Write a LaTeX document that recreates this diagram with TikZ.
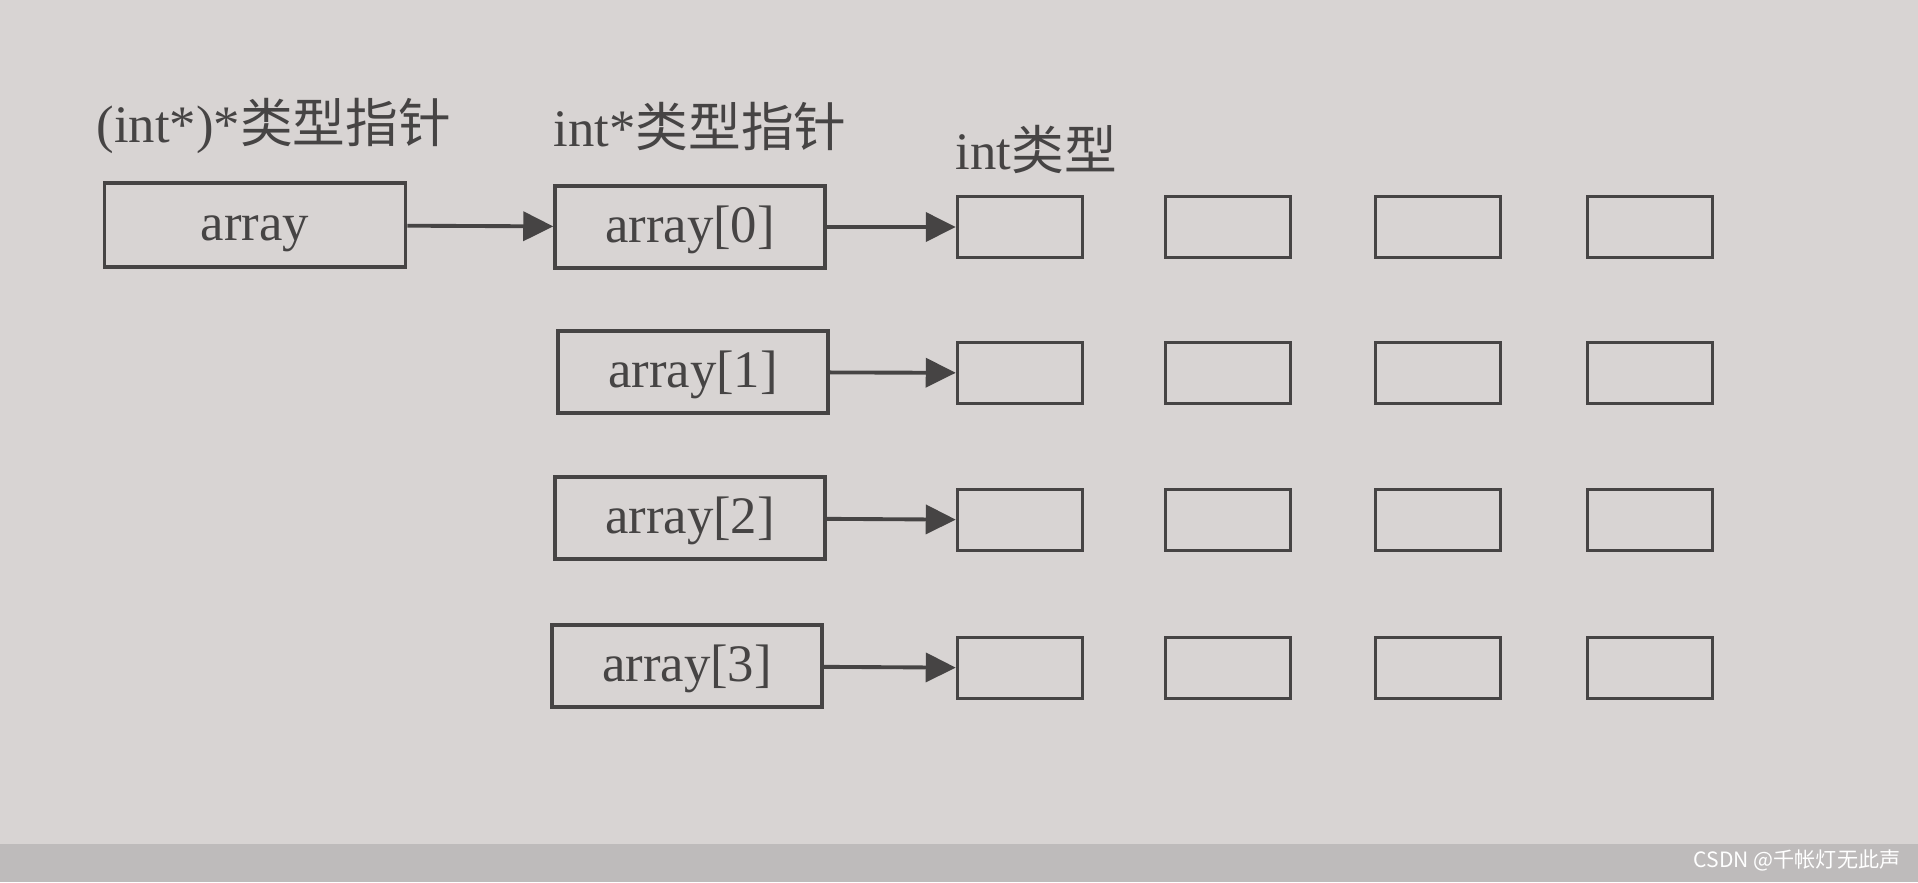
\documentclass[tikz,border=0pt]{standalone}
\usepackage{fontspec}
\setmainfont{Liberation Serif}
\newfontfamily\cjk{Noto Sans CJK SC}
\usetikzlibrary{arrows.meta}
\definecolor{paper}{RGB}{216,212,211}
\definecolor{band}{RGB}{190,187,187}
\definecolor{ink}{RGB}{70,68,68}

\begin{document}
\begin{tikzpicture}[line width=1pt, every node/.style={font=\fontsize{15}{18}\selectfont, text=ink},
    ptrbox/.style={draw=ink, minimum width=2.7cm, minimum height=0.82cm, inner sep=0pt, text height=10pt, text depth=1.2pt},
    intbox/.style={draw=ink, minimum width=1.25cm, minimum height=0.61cm, inner sep=0pt},
    link/.style={draw=ink, line width=1.1pt, -{Triangle[length=3mm,width=2.9mm]}}]
  \fill[paper] (0,0) rectangle (19.18,8.82);
  \fill[band] (0,0) rectangle (19.18,0.38);
  \useasboundingbox (0,0) rectangle (19.18,8.82);

  % column titles
  \node[anchor=west, inner sep=0pt] (lblpp) at (0.95,7.56) {(int*)*{\cjk 类型指针}};
  \node[anchor=west, inner sep=0pt] (lblp) at (5.52,7.56) {int*{\cjk 类型指针}};
  \node[anchor=west, inner sep=0pt] (lblint) at (9.54,7.33) {int{\cjk 类型}};

  \node[ptrbox, minimum width=3.01cm, minimum height=0.84cm] (arr) at (2.55,6.57) {array};
  \node[ptrbox] (p0) at (6.90,6.55) {array[0]};
  \node[ptrbox] (p1) at (6.93,5.10) {array[1]};
  \node[ptrbox] (p2) at (6.90,3.64) {array[2]};
  \node[ptrbox] (p3) at (6.87,2.16) {array[3]};

  \foreach \r/\y in {0/6.55,1/5.09,2/3.62,3/2.14}
    \foreach \c/\x in {0/10.2,1/12.28,2/14.38,3/16.5}
      \node[intbox] (c\r\c) at (\x,\y) {};

  \draw[link] (arr) -- (p0);
  \foreach \r in {0,...,3}
    \draw[link] (p\r) -- (c\r0);

  \node[font=\fontsize{6}{7}\selectfont, text=white, anchor=east, inner sep=0pt] (wm) at (19.02,0.22) {\cjk CSDN @千帐灯无此声};
\end{tikzpicture}
\end{document}
